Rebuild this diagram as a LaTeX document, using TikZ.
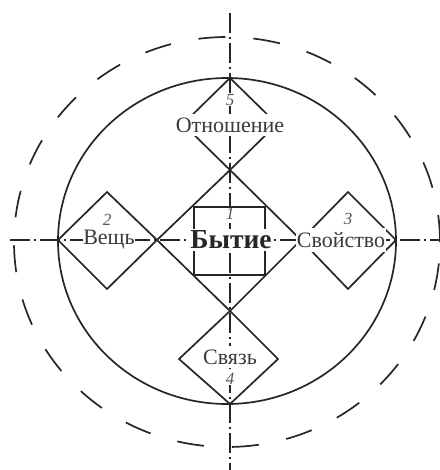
\documentclass[tikz,border=0pt]{standalone}
\usepackage{fontspec}
\setmainfont{Liberation Serif}
\definecolor{ink}{HTML}{262626}
\definecolor{txt}{HTML}{3A3A3A}
\definecolor{numc}{HTML}{575757}
\begin{document}
\begin{tikzpicture}[x=1pt,y=-1pt,
  line width=1.7pt,
  solidline/.style={draw=ink, line width=1.7pt, line join=miter},
  axisline/.style={draw=ink, line width=1.7pt, dash pattern=on 20pt off 4pt on 2pt off 4pt},
  outerline/.style={draw=ink, line width=1.7pt, dash pattern=on 27pt off 28pt},
  lbl/.style={fill=white, inner xsep=0.5pt, inner ysep=4pt, text=txt, font=\fontsize{22}{24}\selectfont},
  num/.style={fill=white, inner sep=0.5pt, text=numc, font=\itshape\fontsize{17}{18}\selectfont},
  mainlbl/.style={fill=white, inner xsep=1pt, inner ysep=2pt, text=ink, font=\bfseries\fontsize{27.5}{29}\selectfont}]
\useasboundingbox (0,0) rectangle (439,470);
% axes
\coordinate (axL) at (10,240);
\coordinate (axR) at (439,240);
\coordinate (axT) at (230,13);
\coordinate (axB) at (230,470);
\draw[axisline] (axL) -- (axR);
\draw[axisline] (axT) -- (axB);
% ellipses
\coordinate (C) at (227,241);
\coordinate (C2) at (227,242);
\draw[outerline] (C2) ellipse [x radius=213pt, y radius=205pt];
% central diamond
\coordinate (cT) at (230,170);
\coordinate (cL) at (157,240);
\coordinate (cB) at (230,311);
\coordinate (cR) at (301,240);
\draw[solidline] (cT) -- (cL) -- (cB) -- (cR) -- cycle;
% square
\coordinate (sq1) at (194,207);
\coordinate (sq2) at (265,275);
\draw[solidline] (sq1) rectangle (sq2);
% Вещь diamond
\coordinate (vT) at (107,192);
\coordinate (vL) at (58,240);
\coordinate (vB) at (107,289);
\draw[solidline] (vT) -- (vL) -- (vB) -- (cL) -- cycle;
% Свойство diamond
\coordinate (sT) at (348,192);
\coordinate (sR) at (396,240);
\coordinate (sB) at (348,289);
\draw[solidline] (sT) -- (cR) -- (sB) -- (sR) -- cycle;
% Отношение diamond
\coordinate (oT) at (230,78);
\coordinate (oL) at (183,124);
\coordinate (oR) at (277,124);
\draw[solidline] (oT) -- (oL) -- (cT) -- (oR) -- cycle;
% Связь diamond
\coordinate (bL) at (179,359);
\coordinate (bR) at (278,359);
\coordinate (bB) at (230,404);
\draw[solidline] (cB) -- (bL) -- (bB) -- (bR) -- cycle;
% labels
\node[mainlbl] (byt) at (231,240) {Бытие};
\node[num] (n1) at (230,214) {1};
\node[lbl] (veshch) at (109,240) {Вещь};
\node[num] (n2) at (107,220) {2};
\node[lbl] (svoj) at (341,240) {Свойство};
\node[num] (n3) at (348,219) {3};
\node[lbl] (otn) at (230,125) {Отношение};
\node[num] (n5) at (230,100) {5};
\node[lbl] (svyaz) at (230,357) {Связь};
\node[num] (n4) at (230,379) {4};
% inner circle drawn last so labels never cut it
\draw[solidline] (C) ellipse [x radius=169pt, y radius=163pt];
\end{tikzpicture}
\end{document}
